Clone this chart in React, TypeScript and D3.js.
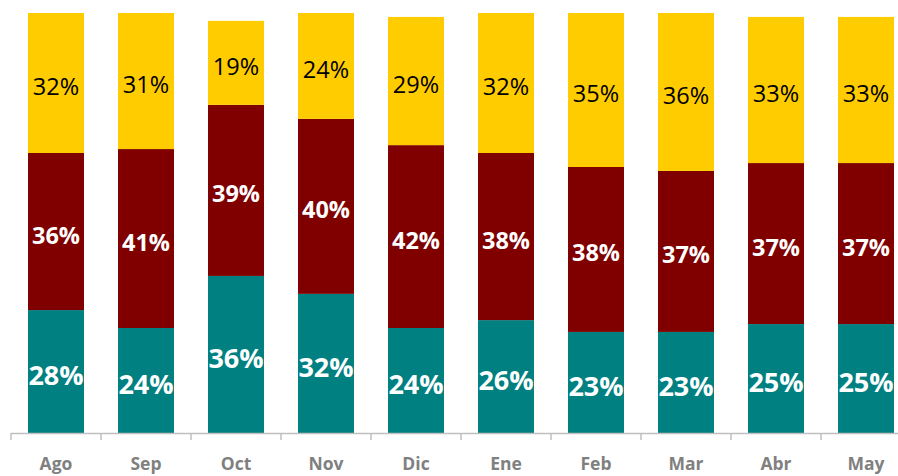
import React from "react";
import * as d3 from "d3";

const months = ["Ago", "Sep", "Oct", "Nov", "Dic", "Ene", "Feb", "Mar", "Abr", "May"];
const tealValues = [28.1, 24.0, 35.9, 31.8, 24.0, 25.8, 23.1, 23.1, 24.9, 24.9];
const redValues = [35.9, 40.9, 39.1, 40.0, 41.8, 38.2, 37.7, 36.8, 36.8, 36.8];
const yellowValues = [32.0, 31.1, 19.2, 24.2, 29.3, 32.0, 35.2, 36.1, 33.4, 33.4];

const seriesKeys = ["teal", "red", "yellow"];
const colors: Record<string, string> = { teal: "#008080", red: "#800000", yellow: "#FFCC00" };
const labelStyle: Record<string, { fill: string; size: number; weight: number }> = {
  teal: { fill: "#ffffff", size: 27, weight: 700 },
  red: { fill: "#ffffff", size: 23.5, weight: 700 },
  yellow: { fill: "#000000", size: 23.5, weight: 400 },
};

const width = 898;
const height = 476;
const baseY = 433;

const App = () => {
  const rows = months.map((m, i) => ({
    month: m,
    teal: tealValues[i],
    red: redValues[i],
    yellow: yellowValues[i],
  }));

  const stacked = d3.stack<any>().keys(seriesKeys)(rows);

  const x = d3
    .scaleBand()
    .domain(months)
    .range([11, 911])
    .paddingInner(0.378)
    .paddingOuter(0.189);

  const y = d3.scaleLinear().domain([0, 96]).range([baseY, 13]);

  const ticks = d3.range(months.length + 1).map((i) => 11 + i * x.step());

  return (
    <svg
      width={width}
      height={height}
      style={{ position: "absolute", left: 0, top: 0, background: "#fff" }}
      fontFamily="'Open Sans', sans-serif"
    >
      {stacked.map((layer) => (
        <g key={layer.key}>
          {layer.map((d, i) => (
            <rect
              key={i}
              x={x(months[i])}
              y={y(d[1])}
              width={x.bandwidth()}
              height={y(d[0]) - y(d[1])}
              fill={colors[layer.key]}
            />
          ))}
          {layer.map((d, i) => {
            const st = labelStyle[layer.key];
            return (
              <text
                key={"t" + i}
                x={(x(months[i]) as number) + x.bandwidth() / 2}
                y={(y(d[0]) + y(d[1])) / 2 + 3}
                textAnchor="middle"
                dominantBaseline="central"
                fill={st.fill}
                fontSize={st.size}
                fontWeight={st.weight}
              >
                {Math.round(d[1] - d[0])}%
              </text>
            );
          })}
        </g>
      ))}

      {/* category axis */}
      <line x1={11} x2={width} y1={baseY + 0.5} y2={baseY + 0.5} stroke="#bfbfbf" strokeWidth={1.5} />
      {ticks.map((t, i) => (
        <line key={i} x1={t} x2={t} y1={baseY} y2={440} stroke="#bfbfbf" strokeWidth={1.5} />
      ))}
      {months.map((m) => (
        <text
          key={m}
          x={(x(m) as number) + x.bandwidth() / 2}
          y={470}
          textAnchor="middle"
          fill="#808080"
          fontSize={17.5}
          fontWeight={700}
        >
          {m}
        </text>
      ))}
    </svg>
  );
};

export default App;
